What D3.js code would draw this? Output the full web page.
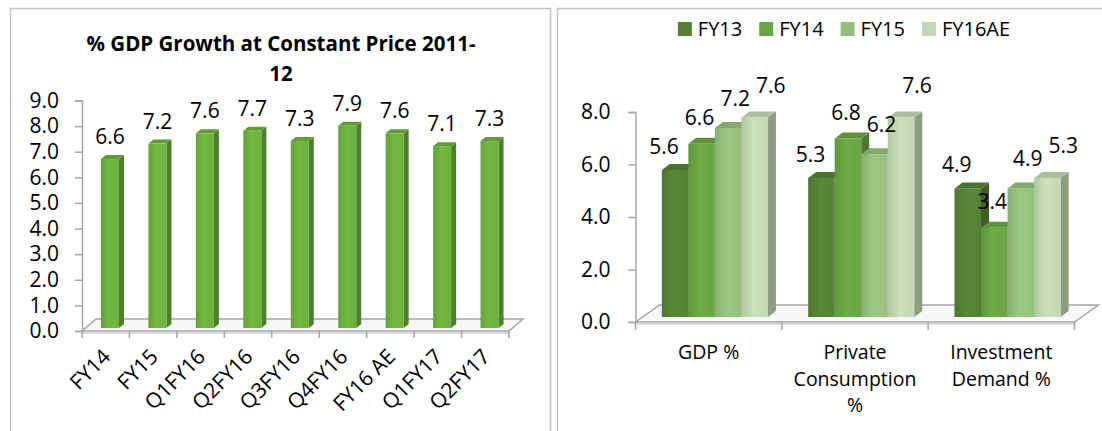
<!DOCTYPE html>
<html>
<head>
<meta charset="utf-8">
<script src="https://cdn.jsdelivr.net/npm/d3@7"></script>
<style>
	body { margin: 0; background: #fff; }
	svg { display: block; font-family: "Open Sans", sans-serif; }
</style>
</head>
<body>
<svg id="chart" width="1102" height="431"></svg>
<script>
// left chart data
var leftTitle = ["% GDP Growth at Constant Price 2011-", "12"];
var leftCats = ["FY14", "FY15", "Q1FY16", "Q2FY16", "Q3FY16", "Q4FY16", "FY16 AE", "Q1FY17", "Q2FY17"];
var leftValues = [6.6, 7.2, 7.6, 7.7, 7.3, 7.9, 7.6, 7.1, 7.3];
var leftTicks = [0, 1, 2, 3, 4, 5, 6, 7, 8, 9];

// right chart data
var rightCats = ["GDP %", "Private Consumption %", "Investment Demand %"];
var rightSeries = ["FY13", "FY14", "FY15", "FY16AE"];
var fy13 = [5.6, 5.3, 4.9];
var fy14 = [6.6, 6.8, 3.4];
var fy15 = [7.2, 6.2, 4.9];
var fy16ae = [7.6, 7.6, 5.3];
var rightTicks = [0, 2, 4, 6, 8];

var FONT = "'Open Sans', sans-serif";
var svg = d3.select("#chart");
var defs = svg.append("defs");

function make_gradient(id, base){
	var c = d3.color(base);
	var g = defs.append("linearGradient").attr("id", id)
		.attr("x1", "0%").attr("x2", "100%").attr("y1", "0%").attr("y2", "0%");
	g.append("stop").attr("offset", "0%").attr("stop-color", c.darker(0.25));
	g.append("stop").attr("offset", "45%").attr("stop-color", c.brighter(0.12));
	g.append("stop").attr("offset", "100%").attr("stop-color", c);
}

// draws one 3d column: front face, right side, top
function draw_bar(g, x, y, w, h, dx, dz, color, gradId){
	var c = d3.color(color);
	g.append("polygon")
		.attr("points", [[x + w, y], [x + w + dx, y - dz], [x + w + dx, y + h - dz], [x + w, y + h]].join(" "))
		.attr("fill", c.darker(0.9));
	g.append("polygon")
		.attr("points", [[x, y], [x + dx, y - dz], [x + w + dx, y - dz], [x + w, y]].join(" "))
		.attr("fill", c.darker(0.35));
	g.append("rect")
		.attr("x", x).attr("y", y)
		.attr("width", w).attr("height", h)
		.attr("fill", "url(#" + gradId + ")");
}

function draw_floor(g, x0, x1, y0, dx, dz){
	g.append("polygon")
		.attr("points", [[x0, y0], [x0 + dx, y0 - dz], [x1 + dx, y0 - dz], [x1, y0]].join(" "))
		.attr("fill", "#f7f7f7")
		.attr("stroke", "#a6a6a6")
		.attr("stroke-width", 1.5);
	g.append("line")
		.attr("x1", x0).attr("x2", x1)
		.attr("y1", y0 + 2).attr("y2", y0 + 2)
		.attr("stroke", "#d0d0d0").attr("stroke-width", 1.5);
}

function style_axis(ax){
	ax.attr("font-family", FONT).attr("font-size", null);
	ax.select(".domain").attr("stroke", "#a6a6a6").attr("stroke-width", 1.5);
	ax.selectAll(".tick line").attr("stroke", "#a6a6a6").attr("stroke-width", 1.5);
	ax.selectAll(".tick text").style("font-size", "21px").attr("fill", "#000");
}

// panel frames
svg.append("path")
	.attr("d", "M10.5,431 V8.5 H550.5 V431")
	.attr("fill", "none").attr("stroke", "#c4c4c4").attr("stroke-width", 1.5);
svg.append("path")
	.attr("d", "M557.5,431 V8.5 H1102")
	.attr("fill", "none").attr("stroke", "#c4c4c4").attr("stroke-width", 1.5);

function left_chart(){
	var g = svg.append("g");
	var x = d3.scaleBand().domain(leftCats).range([82, 509]);
	var y = d3.scaleLinear().domain([0, 9]).range([331, 100.5]);
	var bw = x.bandwidth();

	// title
	g.selectAll(".ltitle")
		.data(leftTitle)
		.enter().append("text")
		.attr("x", 281)
		.attr("y", function(d, i) { return 51 + i * 30; })
		.attr("text-anchor", "middle")
		.style("font-size", "20.5px")
		.style("font-weight", "bold")
		.text(function(d) { return d; });

	// y axis
	var yAxis = g.append("g")
		.attr("transform", "translate(82,0)")
		.call(d3.axisLeft(y).tickValues(leftTicks).tickSize(7).tickPadding(16)
			.tickFormat(d3.format(".1f")));
	style_axis(yAxis);

	draw_floor(g, 82, 509, 331, 14, 12);

	// x ticks
	g.selectAll(".lxtick")
		.data(leftCats.concat([null]))
		.enter().append("line")
		.attr("x1", function(d, i) { return 82 + i * bw; })
		.attr("x2", function(d, i) { return 82 + i * bw; })
		.attr("y1", 331).attr("y2", 338)
		.attr("stroke", "#a6a6a6").attr("stroke-width", 1.5);

	make_gradient("lgrad", "#6cb13d");
	leftValues.forEach(function(v, i) {
		var bx = x(leftCats[i]) + bw * 0.4;
		var top = y(v) - 3;
		draw_bar(g, bx, top, bw * 0.38, y(0) - y(v), 5, 4, "#6cb13d", "lgrad");
	});

	// value labels
	g.selectAll(".lval")
		.data(leftValues)
		.enter().append("text")
		.attr("x", function(d, i) { return x(leftCats[i]) + bw * 0.59; })
		.attr("y", function(d) { return y(d) - 3 - 15; })
		.attr("text-anchor", "middle")
		.style("font-size", "21px")
		.text(function(d) { return d3.format(".1f")(d); });

	// rotated category labels
	g.selectAll(".lcat")
		.data(leftCats)
		.enter().append("text")
		.attr("transform", function(d) {
			return "translate(" + (x(d) + bw / 2 + 6) + ",358) rotate(-45)";
		})
		.attr("text-anchor", "end")
		.style("font-size", "21px")
		.text(function(d) { return d; });
}

function wrap_label(text, maxWidth){
	var words = text.split(" ");
	var probe = svg.append("text").style("font-size", "19.5px");
	var lines = [], cur = "";
	words.forEach(function(w) {
		var t = cur ? cur + " " + w : w;
		probe.text(t);
		if (cur && probe.node().getComputedTextLength() > maxWidth) {
			lines.push(cur);
			cur = w;
		} else {
			cur = t;
		}
	});
	lines.push(cur);
	probe.remove();
	return lines;
}

function right_chart(){
	var g = svg.append("g");
	var x = d3.scaleBand().domain(rightCats).range([635.5, 1074.5]);
	var y = d3.scaleLinear().domain([0, 8]).range([322, 112]);
	var bw = x.bandwidth();
	var colors = ["#548235", "#69a543", "#94c07c", "#c2d9b3"];
	var series = [fy13, fy14, fy15, fy16ae];

	// legend
	var legend = g.append("g");
	var lx = 0;
	rightSeries.forEach(function(s, i) {
		var item = legend.append("g").attr("transform", "translate(" + lx + ",0)");
		item.append("rect")
			.attr("x", 0).attr("y", 22)
			.attr("width", 14).attr("height", 14)
			.attr("fill", colors[i]);
		var t = item.append("text")
			.attr("x", 20).attr("y", 36)
			.style("font-size", "20px")
			.text(s);
		lx += 20 + t.node().getComputedTextLength() + 17;
	});
	legend.attr("transform", "translate(" + (844 - (lx - 17) / 2) + ",0)");

	// y axis
	var yAxis = g.append("g")
		.attr("transform", "translate(635.5,0)")
		.call(d3.axisLeft(y).tickValues(rightTicks).tickSize(7).tickPadding(18)
			.tickFormat(d3.format(".1f")));
	style_axis(yAxis);

	draw_floor(g, 635.5, 1074.5, 322, 24, 17);

	// x ticks
	g.selectAll(".rxtick")
		.data(rightCats.concat([null]))
		.enter().append("line")
		.attr("x1", function(d, i) { return 635.5 + i * bw; })
		.attr("x2", function(d, i) { return 635.5 + i * bw; })
		.attr("y1", 322).attr("y2", 330)
		.attr("stroke", "#a6a6a6").attr("stroke-width", 1.5);

	var inner = d3.scaleBand().domain(rightSeries).range([bw * 0.18, bw * 0.905]);
	rightSeries.forEach(function(s, j) {
		make_gradient("rgrad" + j, colors[j]);
	});

	rightCats.forEach(function(c, i) {
		// left to right so each bar hides the side of the one before
		rightSeries.forEach(function(s, j) {
			var v = series[j][i];
			var bx = x(c) + inner(s);
			draw_bar(g, bx, y(v) - 5, inner.bandwidth(), y(0) - y(v), 8, 6, colors[j], "rgrad" + j);
		});
	});

	// value labels, spread a little like the 3d perspective
	rightCats.forEach(function(c, i) {
		rightSeries.forEach(function(s, j) {
			var v = series[j][i];
			g.append("text")
				.attr("x", x(c) + inner(s) + inner.bandwidth() / 2 + (j - 1.5) * 9 + 2.5)
				.attr("y", y(v) - 5 - 24 - j * 3 + 8)
				.attr("text-anchor", "middle")
				.style("font-size", "21px")
				.text(d3.format(".1f")(v));
		});
	});

	// wrapped category labels
	rightCats.forEach(function(c) {
		var lines = wrap_label(c, bw * 0.9);
		g.selectAll(null)
			.data(lines)
			.enter().append("text")
			.attr("x", x(c) + bw / 2)
			.attr("y", function(d, k) { return 359 + k * 26.5; })
			.attr("text-anchor", "middle")
			.style("font-size", "19.5px")
			.text(function(d) { return d; });
	});
}

left_chart();
right_chart();
</script>
</body>
</html>
